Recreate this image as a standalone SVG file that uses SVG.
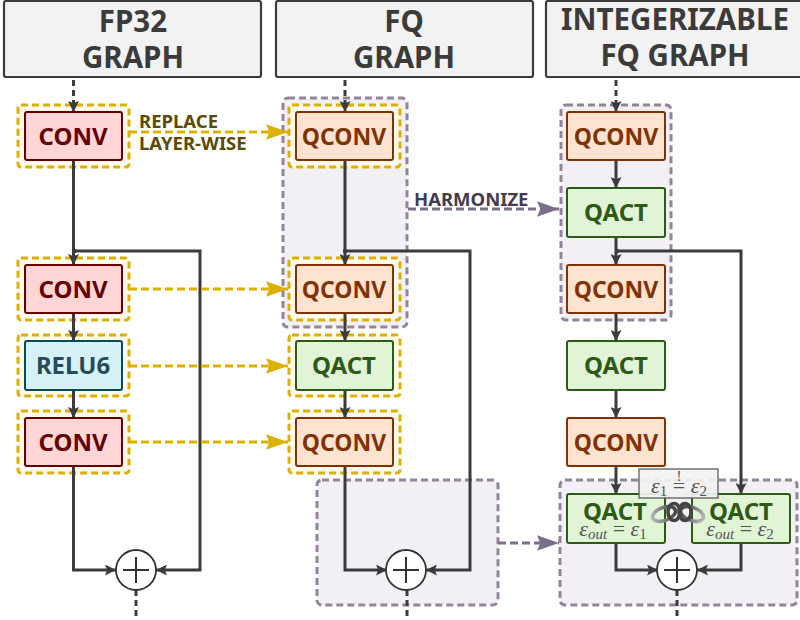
<svg xmlns="http://www.w3.org/2000/svg" width="800" height="620" viewBox="0 0 800 620">
<style>
text{font-family:"Noto Sans","Open Sans",sans-serif;font-weight:700;text-anchor:middle}
.hdr rect{fill:#f2f2f2;stroke:#3b3b3b;stroke-width:2.2}
.hdr text{font-size:29.5px;fill:#3b3b3b}
.n{stroke-width:2}
.t{font-size:24px}
.conv rect.n{fill:#ffd5d5;stroke:#660000}.conv text{fill:#660000}
.relu rect.n{fill:#d5f2f8;stroke:#0c4a58}.relu text{fill:#274b58}
.qconv rect.n{fill:#ffe3d1;stroke:#803300}.qconv text{fill:#803300;font-size:23px}
.qact rect.n{fill:#e2f4d6;stroke:#2d5a16}.qact text{fill:#2d5a16}
.sel{fill:#fffaeb;stroke:#dcb000;stroke-width:3;stroke-dasharray:7 4}
.grp{fill:#f2f0f4;stroke:#93849c;stroke-width:3;stroke-dasharray:7 4}
.w{fill:none;stroke:#3b3b3b;stroke-width:3}
.wd{fill:none;stroke:#3b3b3b;stroke-width:3;stroke-dasharray:6 4}
.y{fill:none;stroke:#dcb000;stroke-width:3;stroke-dasharray:8 4}
.p{fill:none;stroke:#7b6f8c;stroke-width:3;stroke-dasharray:8 4}
.sum circle{fill:#fff;stroke:#333;stroke-width:1.8}.sum path{stroke:#333;stroke-width:2;fill:none}
.lbl{font-size:18.5px;text-anchor:start}
.qact text.m,text.m{font-family:"Liberation Serif",serif;font-weight:400;font-style:italic;fill:#555;font-size:22px}
</style>
<defs>
<marker id="a" viewBox="0 0 10 10" refX="10" refY="5" markerUnits="userSpaceOnUse" markerWidth="11" markerHeight="11" orient="auto"><path d="M0 0L10 5L0 10L2 5Z" fill="#3b3b3b"/></marker>
<marker id="ay" viewBox="0 0 20 14" refX="20" refY="7" markerUnits="userSpaceOnUse" markerWidth="22" markerHeight="16" orient="auto"><path d="M0 0L20 7L0 14L3 7Z" fill="#dcb000"/></marker>
<marker id="ap" viewBox="0 0 20 14" refX="20" refY="7" markerUnits="userSpaceOnUse" markerWidth="22" markerHeight="16" orient="auto"><path d="M0 0L20 7L0 14L3 7Z" fill="#7b6f8c"/></marker>
<linearGradient id="gl" x1="0" x2="1" y1="0" y2="0"><stop offset="0" stop-color="#b5b5b5"/><stop offset="1" stop-color="#444"/></linearGradient>
<linearGradient id="gr" x1="0" x2="1" y1="0" y2="0"><stop offset="0" stop-color="#444"/><stop offset="1" stop-color="#b5b5b5"/></linearGradient>
</defs>
<g id="header-fp32" class="hdr"><rect x="4" y="1" width="257" height="76" rx="2"/><text x="133" y="32">FP32</text><text x="133" y="68">GRAPH</text></g>
<g id="header-fq" class="hdr"><rect x="276" y="1" width="257" height="76" rx="2"/><text x="404" y="32">FQ</text><text x="404" y="68">GRAPH</text></g>
<g id="header-int" class="hdr"><rect x="546" y="1" width="256" height="76" rx="2"/><text x="675" y="30">INTEGERIZABLE</text><text x="675" y="66">FQ GRAPH</text></g>
<g id="groups">
<rect class="grp" x="283" y="98" width="124" height="229" rx="5"/>
<rect class="grp" x="317" y="480" width="181" height="125" rx="5"/>
<rect class="grp" x="561" y="105" width="110" height="215" rx="5"/>
<rect class="grp" x="560" y="480" width="237" height="125" rx="5"/>
</g>
<g id="selections">
<rect class="sel" x="18" y="105" width="111" height="62" rx="3"/>
<rect class="sel" x="18" y="258" width="111" height="62" rx="3"/>
<rect class="sel" x="18" y="335" width="111" height="61" rx="3"/>
<rect class="sel" x="18" y="411" width="111" height="62" rx="3"/>
<rect class="sel" x="289" y="105" width="111" height="62" rx="3"/>
<rect class="sel" x="289" y="258" width="111" height="62" rx="3"/>
<rect class="sel" x="289" y="335" width="111" height="61" rx="3"/>
<rect class="sel" x="289" y="411" width="111" height="62" rx="3"/>
</g>
<g id="connectors">
<path class="wd" d="M73.5 80V112" marker-end="url(#a)"/>
<path class="w" d="M73.5 160V265" marker-end="url(#a)"/>
<path class="w" d="M73.5 313V341" marker-end="url(#a)"/>
<path class="w" d="M73.5 390V418" marker-end="url(#a)"/>
<path class="w" d="M73.5 466V570H116" marker-end="url(#a)"/>
<path class="w" d="M73.5 251H200V570H156" marker-end="url(#a)"/>
<circle cx="74.5" cy="251" r="2.2" fill="#3b3b3b"/>
<path class="wd" d="M136 590V620"/>
<path class="wd" d="M345 80V112" marker-end="url(#a)"/>
<path class="w" d="M345 160V265" marker-end="url(#a)"/>
<path class="w" d="M345 313V341" marker-end="url(#a)"/>
<path class="w" d="M345 390V418" marker-end="url(#a)"/>
<path class="w" d="M345 466V570H387" marker-end="url(#a)"/>
<path class="w" d="M345 251H470V570H426" marker-end="url(#a)"/>
<circle cx="345" cy="251" r="2.2" fill="#3b3b3b"/>
<path class="wd" d="M407 590V620"/>
<path class="wd" d="M616 80V112" marker-end="url(#a)"/>
<path class="w" d="M616 160V188" marker-end="url(#a)"/>
<path class="w" d="M616 237V265" marker-end="url(#a)"/>
<path class="w" d="M616 313V341" marker-end="url(#a)"/>
<path class="w" d="M616 390V418" marker-end="url(#a)"/>
<path class="w" d="M616 466V494" marker-end="url(#a)"/>
<path class="w" d="M616 251H741V494" marker-end="url(#a)"/>
<circle cx="617" cy="251" r="2.2" fill="#3b3b3b"/>
<path class="w" d="M616 543V570H658" marker-end="url(#a)"/>
<path class="w" d="M741 543V570H697" marker-end="url(#a)"/>
<path class="wd" d="M677 590V620"/>
<path class="y" d="M129 132H288" marker-end="url(#ay)"/>
<path class="y" d="M129 289H288" marker-end="url(#ay)"/>
<path class="y" d="M129 366H288" marker-end="url(#ay)"/>
<path class="y" d="M129 442H288" marker-end="url(#ay)"/>
<path class="p" d="M408 209H559" marker-end="url(#ap)"/>
<path class="p" d="M498 543H559" marker-end="url(#ap)"/>
</g>
<g id="labels">
<text class="lbl" x="139" y="128" fill="#5c4a00">REPLACE</text>
<text class="lbl" x="139" y="150" fill="#5c4a00">LAYER-WISE</text>
<text class="lbl" x="414" y="206" fill="#453a50">HARMONIZE</text>
</g>
<g id="conv1" class="conv"><rect class="n" x="25" y="112" width="97" height="48" rx="2"/><text class="t" x="73" y="145">CONV</text></g>
<g id="conv2" class="conv"><rect class="n" x="25" y="265" width="97" height="48" rx="2"/><text class="t" x="73" y="298">CONV</text></g>
<g id="relu" class="relu"><rect class="n" x="25" y="341" width="97" height="49" rx="2"/><text class="t" x="73" y="374">RELU6</text></g>
<g id="conv3" class="conv"><rect class="n" x="25" y="418" width="97" height="48" rx="2"/><text class="t" x="73" y="451">CONV</text></g>
<g id="sum1" class="sum"><circle cx="136" cy="570" r="20"/><path d="M123 570H149M136 557V583"/></g>
<g id="fq-qconv1" class="qconv"><rect class="n" x="296" y="112" width="97" height="48" rx="2"/><text class="t" x="344" y="145">QCONV</text></g>
<g id="fq-qconv2" class="qconv"><rect class="n" x="296" y="265" width="97" height="48" rx="2"/><text class="t" x="344" y="298">QCONV</text></g>
<g id="fq-qact" class="qact"><rect class="n" x="296" y="341" width="97" height="49" rx="2"/><text class="t" x="344" y="374">QACT</text></g>
<g id="fq-qconv3" class="qconv"><rect class="n" x="296" y="418" width="97" height="48" rx="2"/><text class="t" x="344" y="451">QCONV</text></g>
<g id="sum2" class="sum"><circle cx="406" cy="570" r="20"/><path d="M393 570H419M406 557V583"/></g>
<g id="int-qconv1" class="qconv"><rect class="n" x="567" y="112" width="98" height="48" rx="2"/><text class="t" x="616" y="145">QCONV</text></g>
<g id="int-qact1" class="qact"><rect class="n" x="567" y="188" width="98" height="49" rx="2"/><text class="t" x="616" y="221">QACT</text></g>
<g id="int-qconv2" class="qconv"><rect class="n" x="567" y="265" width="98" height="48" rx="2"/><text class="t" x="616" y="298">QCONV</text></g>
<g id="int-qact2" class="qact"><rect class="n" x="567" y="341" width="98" height="49" rx="2"/><text class="t" x="616" y="374">QACT</text></g>
<g id="int-qconv3" class="qconv"><rect class="n" x="567" y="418" width="98" height="48" rx="2"/><text class="t" x="616" y="451">QCONV</text></g>
<g id="int-qact3" class="qact"><rect class="n" x="567" y="494" width="98" height="49" rx="2"/><text class="t" x="615" y="520">QACT</text><text class="m" x="613" y="536">ε<tspan font-size="15" dy="3">out</tspan><tspan dy="-3" font-style="normal"> = </tspan>ε<tspan font-size="15" dy="3" font-style="normal">1</tspan></text></g>
<g id="int-qact4" class="qact"><rect class="n" x="692" y="494" width="98" height="49" rx="2"/><text class="t" x="741" y="520">QACT</text><text class="m" x="740" y="536">ε<tspan font-size="15" dy="3">out</tspan><tspan dy="-3" font-style="normal"> = </tspan>ε<tspan font-size="15" dy="3" font-style="normal">2</tspan></text></g>
<g id="sum3" class="sum"><circle cx="677" cy="570" r="20"/><path d="M664 570H690M677 557V583"/></g>
<g id="constraint">
<rect x="639" y="469" width="79" height="29" fill="#f2f2f2" stroke="#666" stroke-width="1.5" opacity=".92"/>
<text class="m" x="679" y="493">ε<tspan font-size="15" dy="3" font-style="normal">1</tspan><tspan dy="-3" font-style="normal"> = </tspan>ε<tspan font-size="15" dy="3" font-style="normal">2</tspan></text>
<text class="m" x="679" y="481" style="font-style:normal;font-size:15px">!</text>
<g fill="none" stroke-width="3.6">
<ellipse cx="664" cy="514" rx="12" ry="6.5" stroke="url(#gl)" transform="rotate(-20 664 514)"/>
<ellipse cx="692" cy="514" rx="12" ry="6.5" stroke="url(#gr)" transform="rotate(20 692 514)"/>
<ellipse cx="674" cy="512" rx="6" ry="8.5" stroke="#444"/>
<ellipse cx="685" cy="512" rx="6" ry="8.5" stroke="#444"/>
</g>
</g>
</svg>
